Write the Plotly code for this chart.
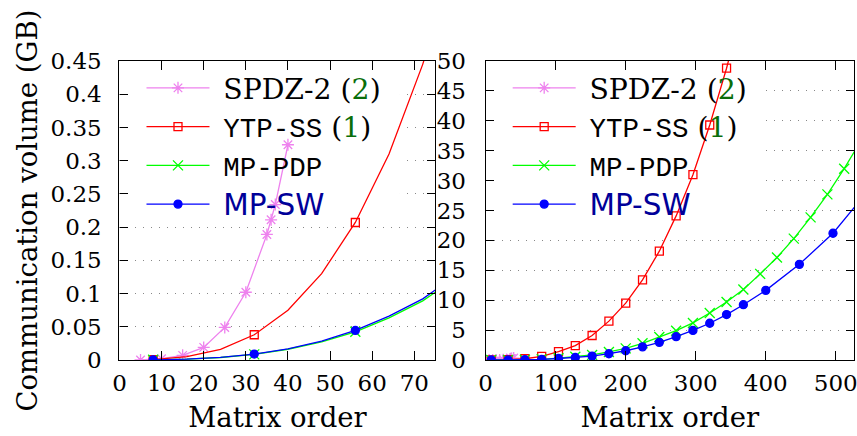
import plotly.graph_objects as go

# ---------------- data ----------------
NB = "\u00a0"
GREEN_TXT = "#0a6e0a"
SERIF_PX = "28.3px"
MONO = "font-family:Liberation Mono;font-size:27.5px"
series_names = [
    NB + '<span style="font-size:' + SERIF_PX + '">SPDZ-2 (</span><span style="font-size:' + SERIF_PX
    + ';color:' + GREEN_TXT + '">2</span><span style="font-size:' + SERIF_PX + '">)</span>',
    NB + '<span style="' + MONO + '">YTP-SS</span><span style="font-size:' + SERIF_PX + '"> (</span>'
    '<span style="font-size:' + SERIF_PX + ';color:' + GREEN_TXT + '">1</span><span style="font-size:'
    + SERIF_PX + '">)</span>',
    NB + '<span style="' + MONO + '">MP-PDP</span>',
    NB + '<span style="font-family:DejaVu Sans;font-size:29.5px;color:#000099">MP-SW</span>',
]
series_colors = ["#ee82ee", "#ff0000", "#00ff00", "#0000ff"]

# SPDZ-2 (same data on both panels)
spdz_n = [5, 10, 15, 20, 25, 30, 35, 36, 37, 40]
spdz_gb = [0.0, 0.002, 0.007, 0.019, 0.049, 0.102, 0.189, 0.211, 0.234, 0.324]

# left panel (small matrices)
small_n = [8, 16, 24, 32, 40, 48, 56, 64, 72, 80]
ytp_gb_small = [0.0006, 0.005, 0.016, 0.038, 0.075, 0.130, 0.207, 0.31, 0.445, 0.61]
pdp_gb_small = [0.0003, 0.0012, 0.0038, 0.0085, 0.0162, 0.0272, 0.0425, 0.0635, 0.089, 0.124]
sw_gb_small = [0.0003, 0.0013, 0.004, 0.009, 0.0168, 0.0285, 0.0445, 0.066, 0.092, 0.128]

# right panel (large matrices)
ytp_n = [8, 32, 56, 80, 104, 128, 152, 176, 200, 224, 248, 272, 296, 320, 344, 368]
ytp_gb = [0.0, 0.04, 0.21, 0.6, 1.4, 2.4, 4.1, 6.5, 9.5, 13.4, 18.2, 24.1, 31.0, 39.3, 48.8, 59.7]
pdp_n = [8, 32, 56, 80, 104, 128, 152, 176, 200, 224, 248, 272, 296, 320, 344, 368,
         392, 416, 440, 464, 488, 512, 536]
pdp_gb = [0.0, 0.01, 0.04, 0.12, 0.3, 0.55, 0.85, 1.35, 1.95, 2.8, 3.85, 4.9, 6.2, 7.85,
          9.7, 11.8, 14.4, 17.15, 20.3, 23.85, 27.7, 32.0, 36.7]
sw_n = [8, 32, 56, 80, 104, 128, 152, 176, 200, 224, 248, 272, 296, 320, 344, 368,
        400, 448, 496, 544]
sw_gb = [0.0, 0.01, 0.04, 0.1, 0.25, 0.42, 0.65, 1.05, 1.55, 2.2, 2.95, 3.9, 4.95, 6.15,
         7.6, 9.25, 11.65, 16.0, 21.2, 28.0]

left_xticks = [0, 10, 20, 30, 40, 50, 60, 70]
left_yticks = [0, 0.05, 0.1, 0.15, 0.2, 0.25, 0.3, 0.35, 0.4, 0.45]
left_ytext = ["0", "0.05", "0.1", "0.15", "0.2", "0.25", "0.3", "0.35", "0.4", "0.45"]
right_xticks = [0, 100, 200, 300, 400, 500]
right_yticks = [0, 5, 10, 15, 20, 25, 30, 35, 40, 45, 50]

x_title = "Matrix order"
y_title = "Communication volume (GB)"

# ---------------- styles ----------------
symbols = ["asterisk-open", "square-open", "x-thin-open", "circle"]
msizes = [10, 8, 10, 8]
LW = 1.3

fig = go.Figure()


def add_series(xs, ys, k, xa, ya, step):
    color = series_colors[k]
    fig.add_trace(go.Scatter(x=xs, y=ys, mode="lines", xaxis=xa, yaxis=ya,
                             line=dict(color=color, width=LW), showlegend=False,
                             hoverinfo="skip", cliponaxis=True))
    fig.add_trace(go.Scatter(x=xs[::step], y=ys[::step], mode="markers", xaxis=xa, yaxis=ya,
                             marker=dict(symbol=symbols[k], size=msizes[k], color=color,
                                         line=dict(color=color, width=1.3)),
                             showlegend=False, cliponaxis=True))


# left panel
add_series(spdz_n, spdz_gb, 0, "x", "y", 1)
add_series(small_n, ytp_gb_small, 1, "x", "y", 3)
add_series(small_n, pdp_gb_small, 2, "x", "y", 3)
add_series(small_n, sw_gb_small, 3, "x", "y", 3)
# right panel
add_series(spdz_n, spdz_gb, 0, "x2", "y2", 1)
add_series(ytp_n, ytp_gb, 1, "x2", "y2", 1)
add_series(pdp_n, pdp_gb, 2, "x2", "y2", 1)
add_series(sw_n, sw_gb, 3, "x2", "y2", 1)

# legend-only entries (no data)
for lg, xa, ya in [("legend", "x", "y"), ("legend2", "x2", "y2")]:
    for k in range(4):
        fig.add_trace(go.Scatter(x=[None], y=[None], mode="lines+markers", xaxis=xa, yaxis=ya,
                                 name=series_names[k], legend=lg,
                                 line=dict(color=series_colors[k], width=LW),
                                 marker=dict(symbol=symbols[k], size=msizes[k], color=series_colors[k],
                                             line=dict(color=series_colors[k], width=1.3))))

TICKFONT = dict(family="DejaVu Serif", size=23, color="black")
TITLEFONT = dict(family="DejaVu Serif", size=27.5, color="black")

common_x = dict(showline=True, linecolor="black", linewidth=1.3, mirror="ticks",
                ticks="inside", ticklen=9, tickwidth=1.1, tickcolor="black",
                showgrid=False, zeroline=False, tickfont=TICKFONT,
                title=dict(text=x_title, font=TITLEFONT, standoff=12),
                ticklabelstandoff=2, ticklabeloverflow="allow")
common_y = dict(showline=True, linecolor="black", linewidth=1.3, mirror="ticks",
                ticks="inside", ticklen=8, tickwidth=1.1, tickcolor="black",
                showgrid=True, gridcolor="#888888", gridwidth=1, griddash="1px,7px",
                zeroline=False, tickfont=TICKFONT, ticklabeloverflow="allow")

legend_common = dict(bgcolor="rgba(0,0,0,0)", borderwidth=0,
                     font=dict(family="DejaVu Serif", size=27.5, color="black"),
                     itemwidth=63, tracegroupgap=0, xanchor="left", yanchor="top",
                     xref="paper", yref="paper", itemclick=False, itemdoubleclick=False)

fig.update_layout(
    width=857, height=436,
    margin=dict(l=0, r=0, t=0, b=0, autoexpand=False),
    paper_bgcolor="white", plot_bgcolor="white",
    xaxis=dict(domain=[0.1394, 0.508], range=[0, 75], tickvals=left_xticks, anchor="y", **common_x),
    yaxis=dict(domain=[0.1743, 0.860], range=[0, 0.45], tickvals=left_yticks, ticktext=left_ytext,
               anchor="x", title=dict(text=y_title, font=TITLEFONT, standoff=4),
               ticklabelstandoff=12, **common_y),
    xaxis2=dict(domain=[0.5667, 0.9965], range=[0, 526], tickvals=right_xticks, anchor="y2", **common_x),
    yaxis2=dict(domain=[0.1743, 0.860], range=[0, 50], tickvals=right_yticks, anchor="x2",
                ticklabelstandoff=14, **common_y),
    legend=dict(x=0.1651, y=0.8544, **legend_common),
    legend2=dict(x=0.5924, y=0.8544, **legend_common),
    shapes=[
        # opaque legend backgrounds (hide the grid, stay under the curves)
        dict(type="rect", xref="x", yref="y", x0=1.5, x1=66.6, y0=0.218, y1=0.4365,
             fillcolor="white", line=dict(width=0), layer="between"),
        dict(type="rect", xref="x2", yref="y2", x0=11.8, x1=400.3, y0=24.25, y1=48.5,
             fillcolor="white", line=dict(width=0), layer="between"),
    ],
)

fig.write_html("out.html", config={"displayModeBar": False},
               post_script="document.body.style.margin='0px';document.body.style.padding='0px';")
